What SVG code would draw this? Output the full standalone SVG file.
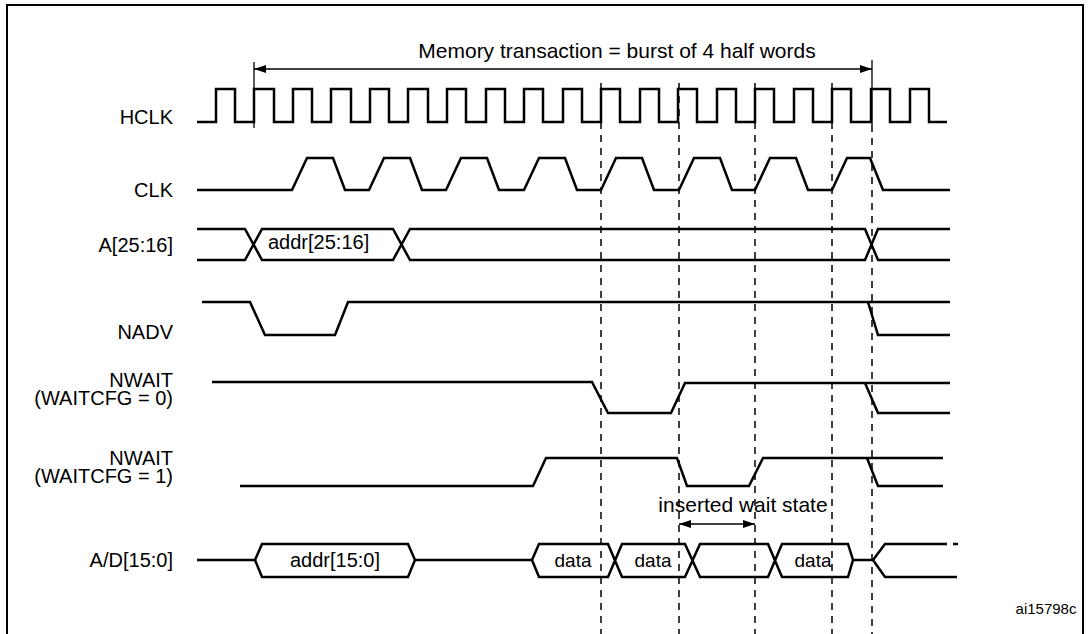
<svg xmlns="http://www.w3.org/2000/svg" width="1089" height="634" viewBox="0 0 1089 634">
<defs>
<marker id="ah" markerWidth="12" markerHeight="8" refX="12" refY="4" orient="auto-start-reverse" markerUnits="userSpaceOnUse"><path d="M0,0 L12,4 L0,8 z" fill="#000"/></marker>
<style>
.w{fill:none;stroke:#000;stroke-width:2.5;stroke-linejoin:miter}
.t{fill:none;stroke:#000;stroke-width:1.3}
.d{fill:none;stroke:#000;stroke-width:1.5;stroke-dasharray:7,6}
.l{font-family:"Liberation Sans",Arial,sans-serif;font-size:20px;fill:#000;text-anchor:end}
.c{font-family:"Liberation Sans",Arial,sans-serif;font-size:19px;fill:#000;text-anchor:middle}
</style>
</defs>
<rect x="0" y="0" width="1089" height="634" fill="#fff"/>
<rect x="7" y="5" width="1076" height="640" fill="none" stroke="#000" stroke-width="2"/>
<g id="labels">
<text class="l" x="173" y="124">HCLK</text>
<text class="l" x="173" y="197">CLK</text>
<text class="l" x="173" y="252">A[25:16]</text>
<text class="l" x="173" y="339">NADV</text>
<text class="l" x="173" y="387">NWAIT</text>
<text class="l" x="173" y="405">(WAITCFG = 0)</text>
<text class="l" x="173" y="465">NWAIT</text>
<text class="l" x="173" y="483">(WAITCFG = 1)</text>
<text class="l" x="173" y="567">A/D[15:0]</text>
<text class="c" x="617" y="58" style="font-size:21px">Memory transaction = burst of 4 half words</text>
<text class="c" x="743" y="512" style="font-size:21px">inserted wait state</text>
<text class="c" x="1046" y="614" style="font-size:15px">ai15798c</text>
</g>
<g id="connectors">
<path class="d" d="M601,83V634M679,83V634M755,83V634M832,83V634M872,125V634"/>
<path class="t" d="M254,62V128M872,60V125"/>
<line class="t" x1="254" y1="69" x2="872" y2="69" marker-start="url(#ah)" marker-end="url(#ah)"/>
<line class="t" x1="679" y1="524" x2="755" y2="524" marker-start="url(#ah)" marker-end="url(#ah)"/>
</g>
<g id="HCLK">
<path class="w" d="M197,122H216V89H235V122H254V89H274V122H293V89H312V122H331V89H351V122H370V89H389V122H408V89H428V122H447V89H466V122H486V89H505V122H524V89H543V122H563V89H582V122H601V89H620V122H640V89H659V122H678V89H697V122H717V89H736V122H755V89H774V122H794V89H813V122H832V89H851V122H871V89H890V122H910V89H929V122H947"/>
</g>
<g id="CLK">
<path class="w" d="M197,190H292L307,158H333L345,190H369L384,158H410L422,190H446L461,158H487L499,190H524L539,158H565L577,190H601L616,158H642L654,190H679L694,158H720L732,190H755L770,158H796L808,190H832L847,158H870L883,190H950"/>
</g>
<g id="A2516">
<path class="w" d="M197,229H245L262,260H393L410,229H865L878,260H950"/>
<path class="w" d="M197,260H245L262,229H393L410,260H865L878,229H950"/>
<text x="268" y="249" style="font-family:'Liberation Sans',Arial,sans-serif;font-size:20px">addr[25:16]</text>
</g>
<g id="NADV">
<path class="w" d="M202,302H250L265,335H335L348,302H950"/>
<path class="w" d="M868,302L878,335H950"/>
</g>
<g id="NWAIT0">
<path class="w" d="M212,382H592L608,413H671L685,383H950"/>
<path class="w" d="M865,383L878,413H950"/>
</g>
<g id="NWAIT1">
<path class="w" d="M240,486H533L546,458H677L687,486H749L763,458H943"/>
<path class="w" d="M867,458L878,486H943"/>
</g>
<g id="AD">
<path class="w" d="M197,560H255M415,560H532M853,560H873"/>
<path class="w" d="M255,560L262,544H408L415,560L408,577H262Z"/>
<path class="w" d="M532,560L539,544H608L622,577H685L700,544H768L782,577H848L853,560L848,544H782L768,577H700L685,544H622L608,577H539Z"/>
<path class="w" d="M873,560L885,544H947M953,544H958M873,560L885,577H957"/>
<text class="c" x="335" y="567" style="font-size:20px">addr[15:0]</text>
<text class="c" x="573" y="567">data</text>
<text class="c" x="653" y="567">data</text>
<text class="c" x="813" y="567">data</text>
</g>
</svg>
